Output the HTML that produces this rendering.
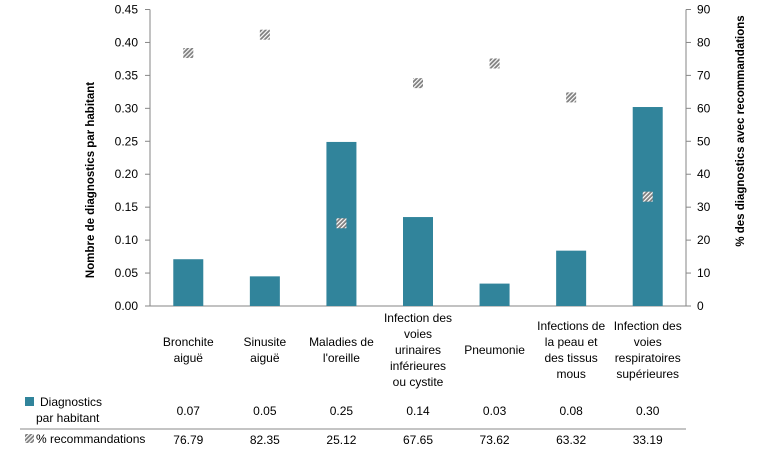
<!DOCTYPE html>
<html><head><meta charset="utf-8"><style>
body{margin:0;background:#fff;}
svg{display:block;font-family:"Liberation Sans",sans-serif;}
</style></head><body>
<svg id="chart" width="766" height="450" viewBox="0 0 766 450">
<defs>
<pattern id="hatch" width="3" height="3" patternUnits="userSpaceOnUse" patternTransform="rotate(45)">
<rect width="3" height="3" fill="#7f7f7f"/><rect width="1.2" height="3" fill="#fff"/>
</pattern>
</defs>
<g id="axes"></g>
<g id="bars"></g>
<g id="markers"></g>
<g id="labels"></g>
<text transform="translate(94,180) rotate(-90)" text-anchor="middle" font-size="11.5" font-weight="bold">Nombre de diagnostics  par habitant</text>
<text transform="translate(744,131) rotate(-90)" text-anchor="middle" font-size="11.5" font-weight="bold">% des diagnostics  avec recommandations</text>
<rect x="25" y="397" width="9" height="9" fill="#31849b"/>
<text x="40" y="406" font-size="12">Diagnostics</text>
<text x="36" y="422" font-size="12">par habitant</text>
<rect x="25" y="434" width="9" height="9" fill="url(#hatch)"/>
<text x="36" y="443" font-size="12">% recommandations</text>
<line x1="20" y1="429" x2="686" y2="429" stroke="#888" stroke-width="1"/>
</svg>
<script>
const categories = [["Bronchite","aiguë"],["Sinusite","aiguë"],["Maladies de","l'oreille"],["Infection des","voies","urinaires","inférieures","ou cystite"],["Pneumonie"],["Infections de","la peau et","des tissus","mous"],["Infection des","voies","respiratoires","supérieures"]];
const diagnostics = [0.071, 0.045, 0.249, 0.135, 0.034, 0.084, 0.302];
const diagLabels = ["0.07","0.05","0.25","0.14","0.03","0.08","0.30"];
const recommandations = [76.79, 82.35, 25.12, 67.65, 73.62, 63.32, 33.19];
const recLabels = ["76.79","82.35","25.12","67.65","73.62","63.32","33.19"];
const leftTicks = [0,0.05,0.10,0.15,0.20,0.25,0.30,0.35,0.40,0.45];
const rightTicks = [0,10,20,30,40,50,60,70,80,90];

const NS="http://www.w3.org/2000/svg";
const X0=150,X1=686,Y0=306,Y1=9.5;
const band=(X1-X0)/categories.length;
const xc=i=>X0+band*(i+0.5);
const yL=v=>Y0-(v/0.45)*(Y0-Y1);
const yR=v=>Y0-(v/90)*(Y0-Y1);
function mk(tag,attrs,parent,text){const e=document.createElementNS(NS,tag);for(const k in attrs)e.setAttribute(k,attrs[k]);if(text!==undefined)e.textContent=text;document.getElementById(parent).appendChild(e);return e;}

let e=mk('line',{x1:X0,y1:Y1,x2:X0,y2:Y0,stroke:'#868686'},'axes');


e=mk('line',{x1:X1,y1:Y1,x2:X1,y2:Y0,stroke:'#868686'},'axes');


e=mk('line',{x1:X0,y1:Y0,x2:X1,y2:Y0,stroke:'#868686'},'axes');


leftTicks.forEach(t=>{
  const y=yL(t);
  mk('line',{x1:X0-5,y1:y,x2:X0,y2:y,stroke:'#868686'},'axes');
  const l=mk('text',{x:X0-12,y:y+4,'text-anchor':'end','font-size':12},'axes',t.toFixed(2));
  
  
});
rightTicks.forEach(t=>{
  const y=yR(t);
  mk('line',{x1:X1,y1:y,x2:X1+5,y2:y,stroke:'#868686'},'axes');
  const l=mk('text',{x:X1+11,y:y+4,'font-size':12},'axes',String(t));
  
  
});
diagnostics.forEach((v,i)=>{
  const b=mk('rect',{x:xc(i)-15,y:yL(v),width:30,height:Y0-yL(v),fill:'#31849b'},'bars');
  
  
});
recommandations.forEach((v,i)=>{
  const m=mk('rect',{x:xc(i)-5,y:yR(v)-5,width:10,height:10,fill:'url(#hatch)'},'markers');
  
  
});
categories.forEach((lines,i)=>{
  const start=350-(lines.length-1)*8;
  lines.forEach((ln,j)=>{
    const t=mk('text',{x:xc(i),y:start+j*16+4,'text-anchor':'middle','font-size':12},'labels',ln);
    
    
  });
  const d=mk('text',{x:xc(i),y:415,'text-anchor':'middle','font-size':12},'labels',diagLabels[i]);
  
  
  const r=mk('text',{x:xc(i),y:444,'text-anchor':'middle','font-size':12},'labels',recLabels[i]);
  
  
});
</script>
</body></html>
